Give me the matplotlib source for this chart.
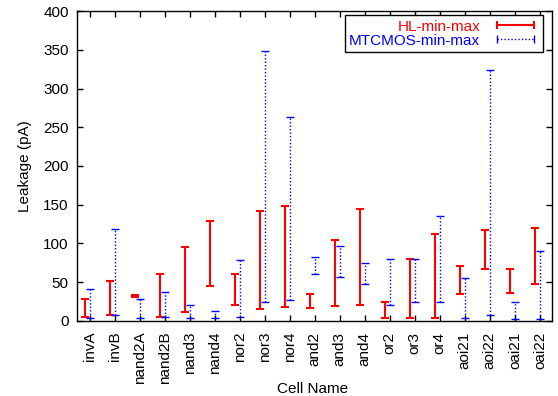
import matplotlib
matplotlib.use("Agg")
import matplotlib.pyplot as plt
from matplotlib.lines import Line2D
import numpy as np

plt.rcParams['font.family'] = ['Liberation Sans', 'DejaVu Sans']

cells = ['invA', 'invB', 'nand2A', 'nand2B', 'nand3', 'nand4', 'nor2', 'nor3',
         'nor4', 'and2', 'and3', 'and4', 'or2', 'or3', 'or4', 'aoi21', 'aoi22',
         'oai21', 'oai22']

hl_min = [5, 7, 31, 5, 11, 45, 21, 15, 18, 16, 19, 21, 4, 4, 4, 35, 67, 36, 47]
hl_max = [28, 52, 33, 60, 95, 129, 61, 142, 148, 35, 104, 144, 24, 80, 112, 71, 117, 67, 120]

mt_min = [4, 7, 4, 5, 4, 4, 5, 24, 27, 60, 57, 48, 21, 24, 24, 3, 7, 2, 2]
mt_max = [41, 118, 28, 37, 21, 13, 78, 348, 263, 82, 96, 74, 80, 80, 135, 55, 324, 24, 90]

x = np.arange(len(cells))
red = '#ff0000'
blue = '#0000ff'
fs = 11

fig, ax = plt.subplots(figsize=(5.58, 3.96), dpi=100)
fig.subplots_adjust(left=0.138, right=0.990, top=0.972, bottom=0.190)

hl_lo = np.array(hl_min)
hl_hi = np.array(hl_max)
mt_lo = np.array(mt_min)
mt_hi = np.array(mt_max)

ax.errorbar(x - 0.2, (hl_lo + hl_hi) / 2, yerr=(hl_hi - hl_lo) / 2, fmt='none',
            ecolor=red, elinewidth=1.5, capsize=3, capthick=1.5)
eb = ax.errorbar(x, (mt_lo + mt_hi) / 2, yerr=(mt_hi - mt_lo) / 2, fmt='none',
                 ecolor=blue, elinewidth=1.0, capsize=3, capthick=1.0)
eb[2][0].set_linestyle((0, (1, 1.5)))

ax.set_xlim(-0.5, len(cells) - 0.5)
ax.set_ylim(0, 400)
ax.set_yticks(np.arange(0, 401, 50))
ax.set_xticks(x)
ax.set_xticklabels(cells, rotation=90)
ax.tick_params(axis='both', direction='in', top=True, right=True, length=4,
               width=1, labelsize=fs)
ax.tick_params(axis='x', pad=8)
ax.tick_params(axis='y', pad=6)
for s in ax.spines.values():
    s.set_linewidth(1)

# gnuplot puts the x label beside the long tick labels
fig.text(313 / 558, 1 - 389 / 396, 'Cell Name', fontsize=fs, ha='center', va='center')
ax.set_ylabel('Leakage (pA)', fontsize=fs, labelpad=8)

handles = [Line2D([], [], color=red, lw=1.5, marker='|', markersize=6, markeredgewidth=1.5),
           Line2D([], [], color=blue, lw=1.0, ls=(0, (1, 1.5)), marker='|', markersize=6,
                  markeredgewidth=1.0)]
leg = ax.legend(handles, ['HL-min-max', 'MTCMOS-min-max'], loc='upper right',
                bbox_to_anchor=(543 / 558, 1 - 15 / 396), bbox_transform=fig.transFigure,
                markerfirst=False, numpoints=2, fontsize=fs, fancybox=False,
                edgecolor='black', framealpha=1, borderpad=0.3, labelspacing=0.0,
                handlelength=3.0, handletextpad=0.8, borderaxespad=0.0,
                alignment='right')
leg.get_frame().set_linewidth(1)
for t, c in zip(leg.get_texts(), [red, blue]):
    t.set_color(c)
    t.set_ha('right')

fig.savefig('out.png', dpi=100)
